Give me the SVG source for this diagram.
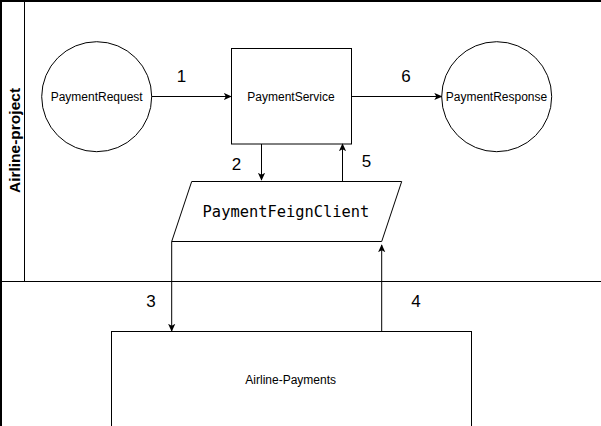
<svg xmlns="http://www.w3.org/2000/svg" width="601" height="426" viewBox="0 0 601 426">
<style>
.ln{fill:none;stroke:#000;stroke-width:1}
.shape{fill:#fff;stroke:#000;stroke-width:1}
.lbl{font-family:"Liberation Sans",Arial,sans-serif;font-size:12px;fill:#000;text-anchor:middle}
.num{font-family:"Liberation Sans",Arial,sans-serif;font-size:17px;fill:#000;text-anchor:middle}
.mono{font-family:"DejaVu Sans Mono","Liberation Mono",monospace;font-size:15.4px;fill:#000;text-anchor:middle}
.title{font-family:"Liberation Sans",Arial,sans-serif;font-size:15.5px;font-weight:bold;fill:#000;text-anchor:middle}
</style>
<defs>
<marker id="arr" viewBox="0 0 10 10" refX="9" refY="5" markerWidth="8" markerHeight="8" markerUnits="userSpaceOnUse" orient="auto">
<path d="M0,0.5 L10,5 L0,9.5 L2.5,5 Z" fill="#000"/>
</marker>
</defs>
<rect width="601" height="426" fill="#fff"/>
<g id="pool">
<line x1="0" y1="1" x2="601" y2="1" stroke="#000" stroke-width="2"/>
<line x1="1" y1="0" x2="1" y2="426" stroke="#000" stroke-width="2"/>
<line x1="24.5" y1="1" x2="24.5" y2="281" class="ln"/>
<line x1="0" y1="281.5" x2="601" y2="281.5" class="ln"/>
<text class="title" transform="translate(19.5,140.5) rotate(-90)">Airline-project</text>
</g>
<g id="payment-request">
<circle cx="96.7" cy="96.7" r="55" class="shape"/>
<text class="lbl" x="96.7" y="100.5">PaymentRequest</text>
</g>
<g id="payment-service">
<rect x="231.5" y="48.5" width="120" height="95.5" class="shape"/>
<text class="lbl" x="291" y="100.5">PaymentService</text>
</g>
<g id="payment-response">
<circle cx="496.7" cy="96.7" r="55" class="shape"/>
<text class="lbl" x="496.5" y="100.5">PaymentResponse</text>
</g>
<g id="payment-feign-client">
<polygon points="191.7,181.5 401.7,181.5 381.7,241.5 171.7,241.5" class="shape"/>
<text class="mono" x="286" y="217">PaymentFeignClient</text>
</g>
<g id="airline-payments">
<rect x="111.5" y="331.5" width="360" height="110" class="shape"/>
<text class="lbl" x="290.7" y="383.5">Airline-Payments</text>
</g>
<g id="connectors">
<line x1="151.7" y1="96.5" x2="231" y2="96.5" class="ln" marker-end="url(#arr)"/>
<line x1="351.5" y1="96.5" x2="441.5" y2="96.5" class="ln" marker-end="url(#arr)"/>
<line x1="261.5" y1="144" x2="261.5" y2="180" class="ln" marker-end="url(#arr)"/>
<line x1="342.5" y1="181.5" x2="342.5" y2="144" class="ln" marker-end="url(#arr)"/>
<line x1="171.7" y1="241.5" x2="171.7" y2="331" class="ln" marker-end="url(#arr)"/>
<line x1="381.7" y1="331.5" x2="381.7" y2="245" class="ln" marker-end="url(#arr)"/>
<text class="num" x="181.5" y="82">1</text>
<text class="num" x="236.5" y="170">2</text>
<text class="num" x="151" y="306.5">3</text>
<text class="num" x="416" y="306.5">4</text>
<text class="num" x="366.5" y="166.5">5</text>
<text class="num" x="406" y="82">6</text>
</g>
</svg>
